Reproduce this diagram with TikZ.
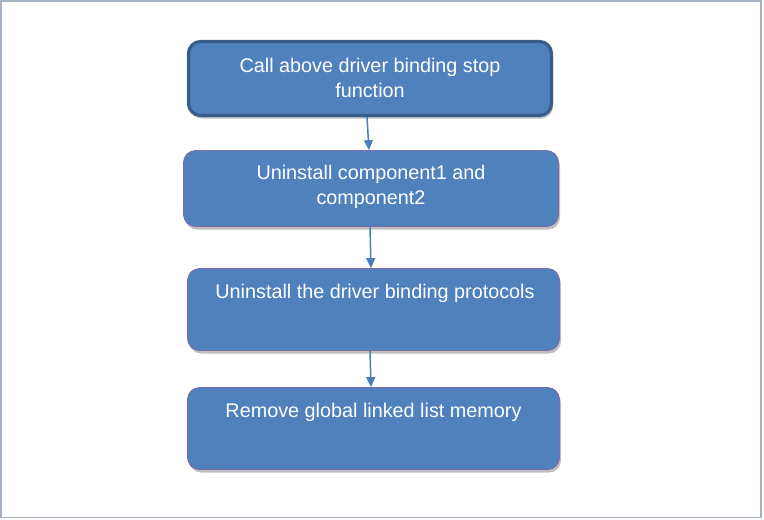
\documentclass[tikz,border=0pt]{standalone}
\usepackage{fontspec}
\setmainfont{Liberation Sans}
\usetikzlibrary{arrows.meta,shadows,calc}
\definecolor{boxfill}{HTML}{4F81BD}
\definecolor{boxedge}{HTML}{385D8A}
\definecolor{thinedge}{HTML}{7E6AA6}
\definecolor{arrowcol}{HTML}{4A7EBB}
\definecolor{framecol}{HTML}{A6B2C2}
\begin{document}
\begin{tikzpicture}[x=1pt,y=-1pt,
  box/.style={rectangle, rounded corners=12pt, fill=boxfill, draw=thinedge, line width=0.8pt,
    drop shadow={shadow xshift=1.5pt, shadow yshift=-3pt, opacity=0.25, fill=black}},
  firstbox/.style={box, draw=boxedge, line width=3.2pt},
  txt/.style={text=white, align=center, font=\fontsize{19.8}{25}\selectfont, inner sep=0pt},
  flow/.style={draw=arrowcol, line width=1.5pt, -{Triangle[length=10pt,width=9pt]}}]
\useasboundingbox (0,0) rectangle (764,520);
\draw[framecol, line width=1.6pt] (0.8,0.8) rectangle (761,517.5) ;
\node[firstbox, minimum width=363pt, minimum height=74pt] (b1) at (370,78.5) {};
\node[box, minimum width=375pt, minimum height=76pt] (b2) at (371,188.5) {};
\node[box, minimum width=372pt, minimum height=82pt] (b3) at (373.5,309.5) {};
\node[box, minimum width=372pt, minimum height=82pt] (b4) at (373.5,428.5) {};
\node[txt] (t1) at ($(b1.center)+(0,-0.5)$) {Call above driver binding stop\\function};
\node[txt] (t2) at ($(b2.center)+(0,-2)$) {Uninstall component1 and\\component2};
\node[txt, anchor=base] (t3) at ($(b3.north)+(1.5,30)$) {Uninstall the driver binding protocols};
\node[txt, anchor=base] (t4) at ($(b4.north)+(0,30)$) {Remove global linked list memory};
\draw[flow] ([xshift=-3pt]b1.south) -- ([xshift=-2pt]b2.north);
\draw[flow] ([xshift=-1pt]b2.south) -- ([xshift=-2.5pt]b3.north);
\draw[flow] ([xshift=-3.5pt]b3.south) -- ([xshift=-2.5pt]b4.north);
\end{tikzpicture}
\end{document}
